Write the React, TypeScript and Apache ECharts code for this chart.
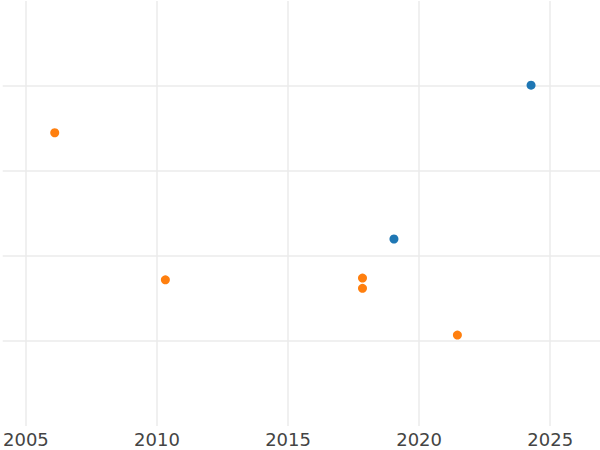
import React, { useEffect, useRef } from "react";
import * as echarts from "echarts";

const orangeYears = [2006.1, 2010.32, 2017.84, 2017.84, 2021.46];
const orangeValues = [3.45, 1.72, 1.74, 1.62, 1.07];
const blueYears = [2019.04, 2024.27];
const blueValues = [2.2, 4.01];
const xTicks = [2005, 2010, 2015, 2020, 2025];

export default function App() {
  const ref = useRef<HTMLDivElement>(null);
  useEffect(() => {
    if (!ref.current) return;
    const chart = echarts.init(ref.current, null, { renderer: "svg" });
    chart.setOption({
      animation: false,
      backgroundColor: "#ffffff",
      grid: { left: 0, right: 0, top: 1, bottom: 24, containLabel: false },
      xAxis: {
        type: "value",
        min: 2004.115,
        max: 2026.9,
        axisLine: { show: false },
        axisTick: { show: false, customValues: xTicks },
        splitLine: { show: true, lineStyle: { color: "#ebebeb", width: 1.5 } },
        axisLabel: {
          show: true,
          margin: 4,
          color: "#444444",
          fontFamily: "DejaVu Sans",
          fontSize: 18,
          customValues: xTicks,
          formatter: (v: number) => String(Math.round(v)),
        },
      },
      yAxis: {
        type: "value",
        min: 0,
        max: 5,
        interval: 1,
        axisLine: { show: false },
        axisTick: { show: false },
        axisLabel: { show: false },
        splitLine: { show: true, showMinLine: false, showMaxLine: false, lineStyle: { color: "#ebebeb", width: 1.5 } },
      },
      series: [
        {
          type: "scatter",
          data: orangeYears.map((x, i) => [x, orangeValues[i]]),
          symbolSize: 9,
          itemStyle: { color: "#ff7f0e", opacity: 1 },
        },
        {
          type: "scatter",
          data: blueYears.map((x, i) => [x, blueValues[i]]),
          symbolSize: 9,
          itemStyle: { color: "#1f77b4", opacity: 1 },
        },
      ],
    });
    return () => chart.dispose();
  }, []);
  return (
    <div
      ref={ref}
      style={{ position: "fixed", left: 0, top: 0, width: 600, height: 450, background: "#fff" }}
    />
  );
}
